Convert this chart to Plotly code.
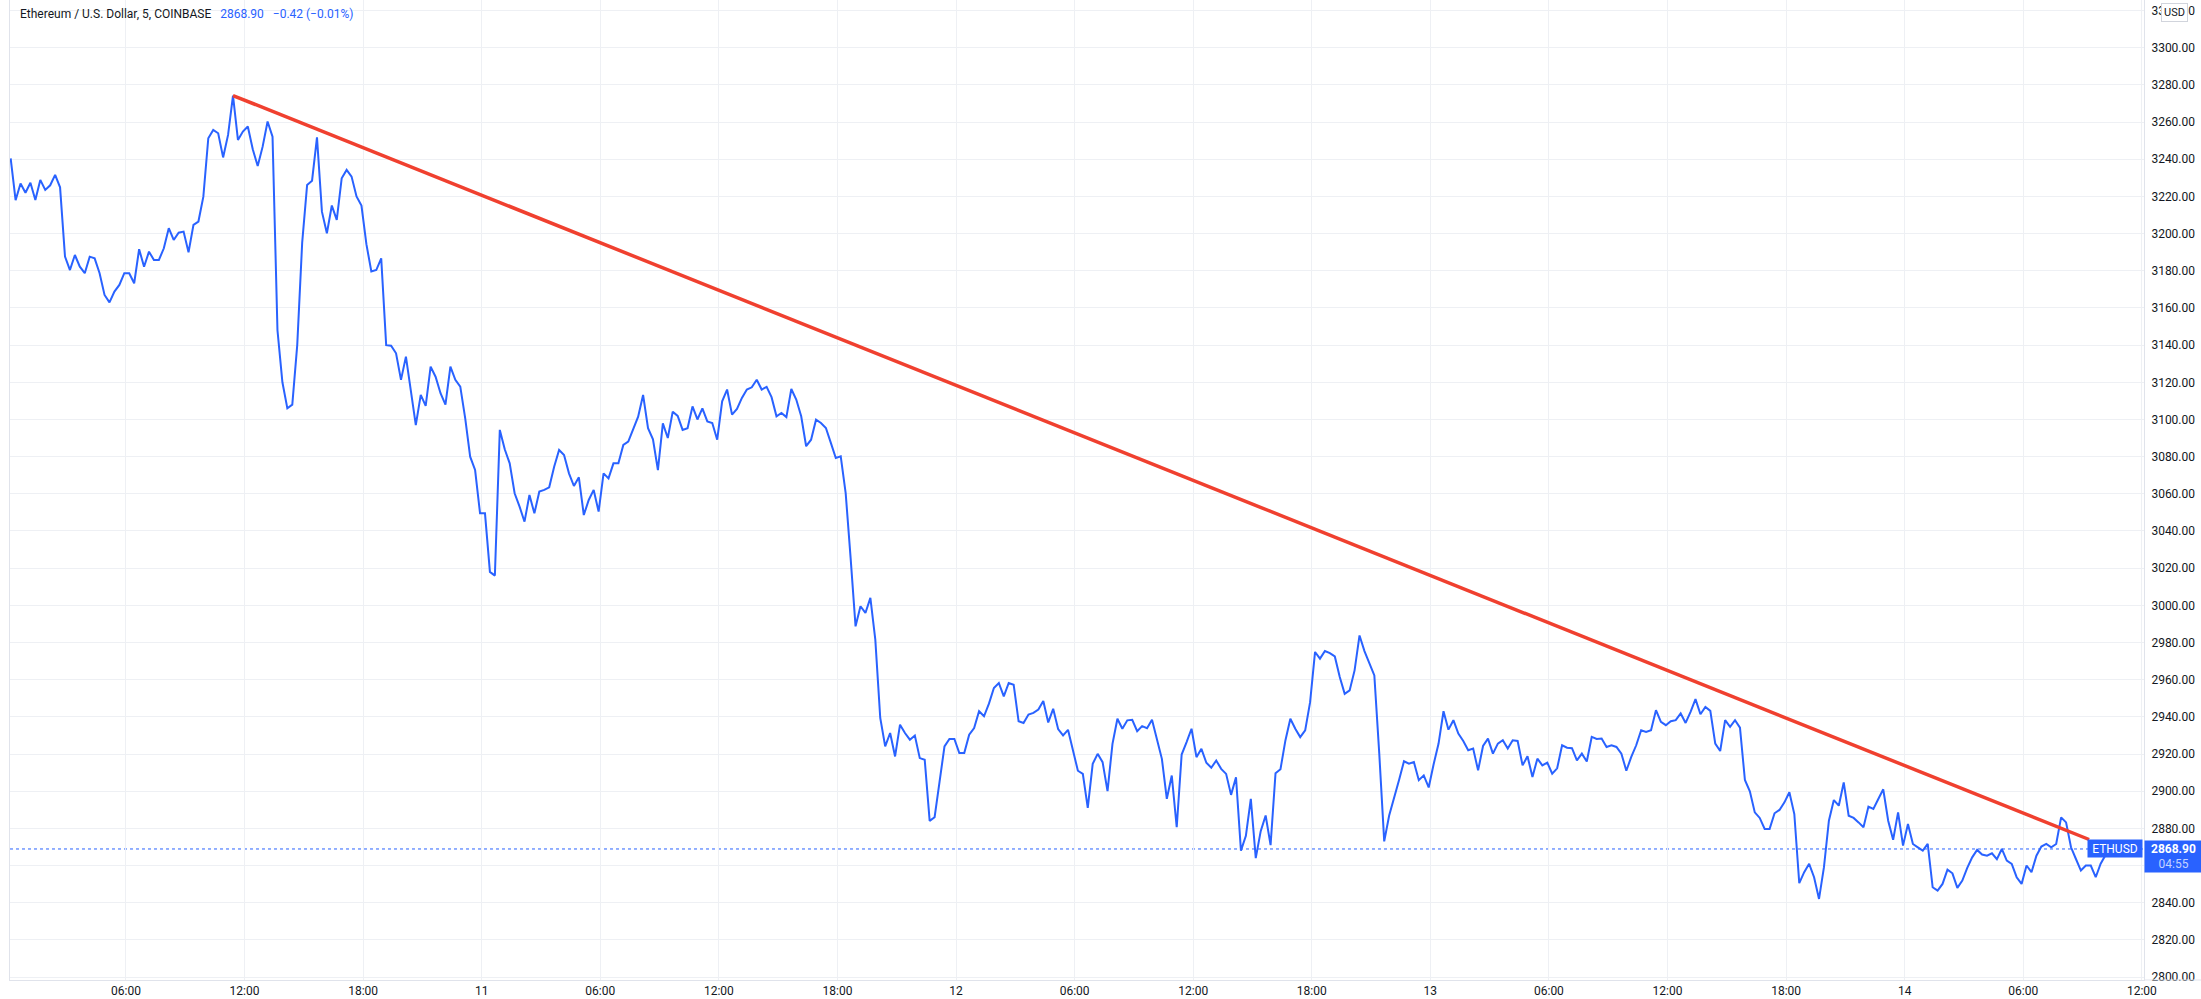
import pandas as pd
import plotly.graph_objects as go

# ---------------- data ----------------
title_text = "Ethereum / U.S. Dollar, 5, COINBASE"
symbol = "ETHUSD"
currency = "USD"
last_price = 2868.90
change_text = "\u22120.42 (\u22120.01%)"
countdown = "04:55"

start_time = "2022-02-10 00:10"
bar_step = "15min"
prices = [
    3240.5, 3218.0, 3227.0, 3222.0, 3227.4, 3218.1, 3228.9, 3223.5, 3226.0, 3231.6, 3224.9, 3187.6,
    3180.4, 3188.5, 3182.2, 3178.7, 3187.6, 3186.7, 3178.7, 3167.0, 3163.0, 3168.8, 3172.4, 3178.7,
    3178.7, 3173.3, 3191.6, 3182.2, 3190.3, 3185.8, 3185.8, 3192.1, 3202.9, 3196.6, 3200.5, 3201.1,
    3190.0, 3204.7, 3206.5, 3219.9, 3251.3, 3255.8, 3254.0, 3241.0, 3253.1, 3274.3, 3250.4, 3254.9,
    3257.6, 3245.4, 3236.4, 3246.8, 3260.3, 3252.2, 3148.0, 3120.0, 3106.0, 3108.0, 3140.0, 3195.0,
    3226.2, 3228.5, 3251.8, 3211.8, 3200.2, 3215.1, 3207.4, 3229.8, 3234.3, 3230.7, 3220.0, 3215.1,
    3194.3, 3179.6, 3180.4, 3186.7, 3140.0, 3139.7, 3135.6, 3121.3, 3133.8, 3115.9, 3097.0, 3113.2,
    3107.3, 3128.4, 3123.0, 3114.1, 3108.0, 3128.4, 3121.3, 3117.7, 3100.6, 3080.0, 3072.8, 3049.5,
    3049.5, 3018.0, 3016.0, 3094.4, 3084.0, 3076.4, 3060.3, 3053.1, 3045.0, 3059.4, 3049.5, 3061.2,
    3062.1, 3063.5, 3074.6, 3083.6, 3080.9, 3071.0, 3064.2, 3068.9, 3048.6, 3056.7, 3062.1, 3050.4,
    3071.0, 3068.3, 3076.4, 3076.4, 3086.3, 3088.1, 3095.3, 3101.5, 3113.2, 3095.3, 3089.3, 3072.8,
    3097.9, 3090.0, 3104.2, 3101.9, 3094.4, 3095.3, 3107.0, 3100.0, 3106.0, 3099.0, 3098.1, 3089.1,
    3109.8, 3116.1, 3102.6, 3105.7, 3111.6, 3116.1, 3117.3, 3121.4, 3116.1, 3117.5, 3112.0, 3101.7,
    3103.5, 3101.3, 3116.4, 3110.7, 3101.7, 3085.6, 3089.1, 3099.9, 3098.1, 3095.4, 3087.4, 3079.3,
    3080.2, 3060.4, 3025.5, 2988.7, 2999.5, 2995.9, 3004.0, 2981.5, 2939.4, 2924.1, 2931.3, 2918.7,
    2935.8, 2931.3, 2927.7, 2929.9, 2917.8, 2916.9, 2884.0, 2886.0, 2905.0, 2924.1, 2928.1, 2928.1,
    2920.5, 2920.5, 2930.4, 2934.0, 2943.0, 2940.3, 2947.1, 2955.5, 2958.2, 2951.0, 2958.2, 2957.3,
    2937.6, 2936.7, 2941.2, 2942.1, 2943.9, 2948.5, 2937.0, 2944.3, 2933.4, 2930.0, 2933.0, 2922.8,
    2911.0, 2909.3, 2891.0, 2914.7, 2920.1, 2915.6, 2900.0, 2925.5, 2939.0, 2933.6, 2938.1, 2938.4,
    2932.3, 2935.0, 2933.9, 2938.4, 2927.3, 2917.4, 2895.9, 2908.4, 2880.6, 2919.7, 2926.4, 2933.6,
    2918.3, 2922.8, 2915.3, 2912.6, 2916.5, 2912.0, 2909.3, 2898.0, 2907.5, 2868.0, 2876.0, 2895.9,
    2864.0, 2878.5, 2886.9, 2871.0, 2909.7, 2911.8, 2927.3, 2939.0, 2933.6, 2929.1, 2932.7, 2947.9,
    2974.9, 2971.3, 2975.4, 2974.3, 2972.5, 2961.4, 2952.4, 2954.2, 2965.0, 2983.8, 2975.4, 2968.6,
    2962.3, 2920.1, 2873.0, 2886.9, 2896.0, 2906.0, 2916.1, 2914.8, 2915.7, 2905.9, 2908.5, 2902.0,
    2914.5, 2925.6, 2943.0, 2933.1, 2938.2, 2931.0, 2927.0, 2922.0, 2922.9, 2911.2, 2924.3, 2928.3,
    2920.2, 2925.6, 2927.4, 2922.9, 2927.4, 2927.0, 2913.9, 2918.8, 2907.6, 2917.5, 2913.9, 2915.4,
    2909.4, 2912.3, 2924.7, 2923.4, 2923.1, 2916.6, 2920.2, 2916.0, 2929.2, 2928.1, 2928.3, 2923.8,
    2924.7, 2923.8, 2920.2, 2911.0, 2918.4, 2924.7, 2932.8, 2931.9, 2932.8, 2943.6, 2937.3, 2935.5,
    2937.6, 2938.2, 2941.8, 2936.7, 2942.7, 2949.5, 2941.4, 2945.3, 2943.2, 2925.6, 2921.6, 2938.2,
    2934.6, 2938.2, 2934.2, 2906.0, 2899.9, 2888.6, 2885.6, 2879.7, 2879.7, 2888.1, 2889.9, 2894.0,
    2899.4, 2887.7, 2850.5, 2856.4, 2860.9, 2853.7, 2842.0, 2859.1, 2884.1, 2895.2, 2892.2, 2904.7,
    2886.8, 2885.6, 2883.2, 2880.6, 2891.7, 2890.4, 2895.8, 2901.0, 2884.1, 2873.8, 2888.6, 2870.7,
    2882.3, 2871.6, 2869.8, 2868.0, 2871.6, 2848.3, 2846.5, 2850.1, 2857.8, 2855.8, 2848.0, 2851.9,
    2858.7, 2864.4, 2868.4, 2865.9, 2865.3, 2866.6, 2863.4, 2868.9, 2862.6, 2860.9, 2853.7, 2850.1,
    2860.0, 2856.4, 2865.3, 2870.2, 2871.6, 2869.8, 2871.6, 2885.9, 2883.2, 2869.8, 2863.5, 2857.3,
    2860.0, 2860.0, 2853.7, 2861.0, 2865.7, 2868.4, 2871.0, 2868.9,
]

trend_times = ["2022-02-10 11:25", "2022-02-14 09:20"]
trend_prices = [3274.3, 2874.0]

x_range = ["2022-02-10 00:08", "2022-02-14 12:06:36"]
y_range = [2798.4, 3325.7]
tick_start = "2022-02-10 06:00"
tick_end = "2022-02-14 12:00"
price_step = 20

# ---------------- build ----------------
times = pd.date_range(start=start_time, periods=len(prices), freq=bar_step)
tick_times = pd.date_range(tick_start, tick_end, freq="6h")
tick_text = [str(t.day) if t.hour == 0 else t.strftime("%H:%M") for t in tick_times]

BLUE = "#2962ff"
RED = "#f0402f"
GRID = "#eef0f4"
BORDER = "#e0e3eb"
TEXT = "#131722"
FONT = "Roboto, Liberation Sans, sans-serif"

fig = go.Figure()
fig.add_trace(go.Scatter(x=times, y=prices, mode="lines",
                         line=dict(color=BLUE, width=2), name=symbol,
                         hoverinfo="x+y"))
fig.add_trace(go.Scatter(x=trend_times, y=trend_prices, mode="lines",
                         line=dict(color=RED, width=3.5), name="trend",
                         hoverinfo="skip"))

# last price dotted line
fig.add_shape(type="line", xref="paper", yref="y", x0=0, x1=1,
              y0=prices[-1], y1=prices[-1], layer="between",
              line=dict(color=BLUE, width=1, dash="dot"))
# bottom border extended under price scale
fig.add_shape(type="line", xref="paper", yref="paper", x0=1, x1=1.03,
              y0=0, y1=0, line=dict(color=BORDER, width=1))

annotations = [
    dict(xref="paper", yref="paper", x=0, y=1, xshift=8, yshift=-5,
         xanchor="left", yanchor="top", showarrow=False, align="left",
         text=(title_text + "\u00a0\u00a0 <span style='color:%s'>%.2f\u00a0\u00a0 %s</span>"
               % (BLUE, last_price, change_text)),
         font=dict(family=FONT, size=12, color=TEXT)),
    dict(xref="paper", yref="y", x=1, y=last_price, xanchor="right", yanchor="middle",
         xshift=-1, showarrow=False, text=symbol, width=54, height=17,
         bgcolor=BLUE, borderpad=0, font=dict(family=FONT, size=12, color="white")),
    dict(xref="paper", yref="y", x=1, y=last_price, xanchor="left", yanchor="top",
         yshift=9, showarrow=False, width=57, height=31, bgcolor=BLUE, borderpad=0,
         text="<b>%.2f</b><br><span style='color:#c3d3ff'>%s</span>" % (last_price, countdown),
         font=dict(family=FONT, size=12, color="white")),
    dict(xref="paper", yref="paper", x=1, y=1, xanchor="left", yanchor="top",
         xshift=17, yshift=-3, showarrow=False, text=currency, bgcolor="white",
         bordercolor="#d1d4dc", borderwidth=1, borderpad=2,
         font=dict(family=FONT, size=11, color=TEXT)),
]

fig.update_layout(
    width=2201, height=999,
    margin=dict(l=10, r=57, t=0, b=19),
    paper_bgcolor="white", plot_bgcolor="white",
    showlegend=False,
    font=dict(family=FONT, size=12, color=TEXT),
    annotations=annotations,
    hovermode="x",
)
fig.update_xaxes(range=x_range, tickvals=tick_times, ticktext=tick_text,
                 showgrid=True, gridcolor=GRID, gridwidth=1,
                 showline=True, linecolor=BORDER, linewidth=1,
                 ticks="", ticklen=0, zeroline=False, tickfont=dict(size=12, color=TEXT))
fig.update_yaxes(side="right", range=y_range, tick0=2800, dtick=price_step,
                 tickformat=".2f", showgrid=True, gridcolor=GRID, gridwidth=1,
                 showline=True, mirror=True, linecolor=BORDER, linewidth=1,
                 ticks="", ticklen=0, ticklabelstandoff=4, zeroline=False,
                 tickfont=dict(size=12, color=TEXT))

fig.write_html("out.html",
               config={"displayModeBar": False},
               post_script="document.body.style.margin='0';document.body.style.overflow='hidden';")
